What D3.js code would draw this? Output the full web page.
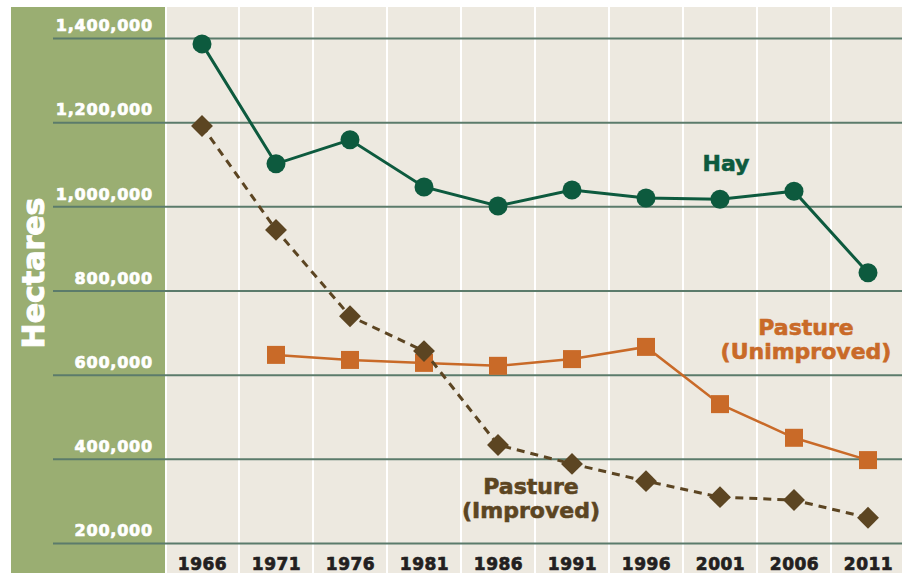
<!DOCTYPE html>
<html>
<head>
<meta charset="utf-8">
<script src="https://cdn.jsdelivr.net/npm/d3@7"></script>
<style>
  body { margin: 0; background: #fff; }
  text { font-family: "DejaVu Sans", sans-serif; font-weight: bold; }
</style>
</head>
<body>
<svg id="chart" width="908" height="573"></svg>
<script>
// data
const years = [1966, 1971, 1976, 1981, 1986, 1991, 1996, 2001, 2006, 2011];
const hay = [1386000, 1101000, 1158000, 1046000, 1001000, 1039000, 1020000, 1017000, 1036000, 842000];
const pastureUnimproved = [null, 647000, 635000, 628000, 621000, 637000, 666000, 530000, 450000, 397000];
const pastureImproved = [1191000, 944000, 739000, 656000, 433000, 388000, 347000, 309000, 302000, 260000];
const yTicks = [200000, 400000, 600000, 800000, 1000000, 1200000, 1400000];

const svg = d3.select('#chart');

const x = d3.scaleLinear().domain([0, years.length - 1]).range([202, 868]);
const y = d3.scaleLinear().domain([200000, 1400000]).range([543, 38]);
const colW = x(1) - x(0);

// background panels
svg.append('rect').attr('x', 11).attr('y', 7).attr('width', 154).attr('height', 566).attr('fill', '#9aae72');
svg.append('rect').attr('x', 167).attr('y', 7).attr('width', 735).attr('height', 566).attr('fill', '#ede9e0');

// white column separators
svg.append('g').selectAll('line')
    .data(years.slice(1))
    .join('line')
    .attr('x1', (d, i) => x(i + 1) - colW / 2)
    .attr('x2', (d, i) => x(i + 1) - colW / 2)
    .attr('y1', 7).attr('y2', 573)
    .attr('stroke', '#fff').attr('stroke-width', 2);

// y axis: gridlines + labels
const yAxis = d3.axisLeft(y)
    .tickValues(yTicks)
    .tickSize(849)
    .tickFormat(d3.format(','));
const yg = svg.append('g').attr('transform', 'translate(902,0)').call(yAxis);
yg.select('.domain').remove();
yg.selectAll('.tick line').attr('stroke', '#5b7b6b').attr('stroke-width', 2);
yg.selectAll('.tick text')
    .attr('x', -749).attr('dy', '-0.45em')
    .attr('fill', '#fff').attr('stroke', '#fff').attr('stroke-width', 0.7)
    .attr('font-size', 16).attr('letter-spacing', 0.8)
    .attr('text-anchor', 'end');

// x axis labels (sit on the bottom edge, as in the original)
const xAxis = d3.axisBottom(x)
    .tickValues(d3.range(years.length))
    .tickSize(0)
    .tickFormat(i => years[i]);
const xg = svg.append('g').attr('transform', 'translate(0,552)').call(xAxis);
xg.select('.domain').remove();
xg.selectAll('.tick text')
    .attr('fill', '#231f20').attr('stroke', '#231f20').attr('stroke-width', 0.7)
    .attr('font-size', 17).attr('letter-spacing', 0.5)
    .attr('dy', '0.88em');

// axis title
svg.append('text')
    .attr('transform', 'translate(44,273) rotate(-90)')
    .attr('text-anchor', 'middle')
    .attr('fill', '#fff').attr('stroke', '#fff').attr('stroke-width', 1)
    .attr('font-size', 30)
    .text('Hectares');

const line = d3.line()
    .defined(d => d != null)
    .x((d, i) => x(i))
    .y(d => y(d));

const pts = arr => arr.map((v, i) => ({ i, v })).filter(d => d.v != null);

// Pasture (Unimproved)
svg.append('path').datum(pastureUnimproved)
    .attr('d', line).attr('fill', 'none')
    .attr('stroke', '#c96a28').attr('stroke-width', 2.5);
svg.append('g').selectAll('rect')
    .data(pts(pastureUnimproved))
    .join('rect')
    .attr('x', d => x(d.i) - 9).attr('y', d => y(d.v) - 9)
    .attr('width', 18).attr('height', 18)
    .attr('fill', '#c96a28');

// Pasture (Improved)
svg.append('path').datum(pastureImproved)
    .attr('d', line).attr('fill', 'none')
    .attr('stroke', '#5c4522').attr('stroke-width', 3)
    .attr('stroke-dasharray', '8,6');
svg.append('g').selectAll('path')
    .data(pts(pastureImproved))
    .join('path')
    .attr('d', d3.symbol(d3.symbolSquare, 240))
    .attr('transform', d => `translate(${x(d.i)},${y(d.v)}) rotate(45)`)
    .attr('fill', '#5c4522');

// Hay
svg.append('path').datum(hay)
    .attr('d', line).attr('fill', 'none')
    .attr('stroke', '#0d5a3e').attr('stroke-width', 3);
svg.append('g').selectAll('circle')
    .data(pts(hay))
    .join('circle')
    .attr('cx', d => x(d.i)).attr('cy', d => y(d.v))
    .attr('r', 9.5)
    .attr('fill', '#0d5a3e');

// series labels
svg.append('text').attr('x', 726).attr('y', 171)
    .attr('text-anchor', 'middle').attr('fill', '#0d5a3e')
    .attr('stroke', '#0d5a3e').attr('stroke-width', 0.6).attr('font-size', 22)
    .text('Hay');

const unimp = svg.append('text').attr('text-anchor', 'middle')
    .attr('fill', '#c96a28').attr('stroke', '#c96a28').attr('stroke-width', 0.6)
    .attr('font-size', 22);
unimp.append('tspan').attr('x', 806).attr('y', 335).text('Pasture');
unimp.append('tspan').attr('x', 806).attr('y', 359).text('(Unimproved)');

const imp = svg.append('text').attr('text-anchor', 'middle')
    .attr('fill', '#5c4522').attr('stroke', '#5c4522').attr('stroke-width', 0.6)
    .attr('font-size', 22);
imp.append('tspan').attr('x', 531).attr('y', 494).text('Pasture');
imp.append('tspan').attr('x', 531).attr('y', 518).text('(Improved)');
</script>
</body>
</html>
